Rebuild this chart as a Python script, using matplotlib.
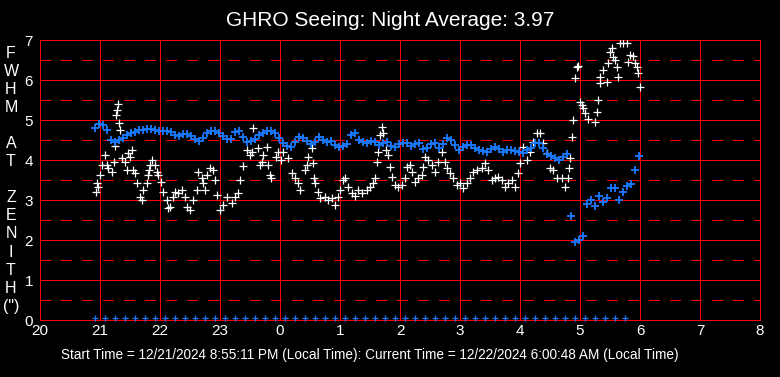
import numpy as np
import matplotlib
matplotlib.use("Agg")
import matplotlib.pyplot as plt

plt.rcParams['font.family'] = ['Liberation Sans', 'DejaVu Sans']
plt.rcParams['lines.scale_dashes'] = False

# hours on an extended clock (24 = midnight)
start_hr = 20.92
blue_step = 4 / 60.0
blue_v = [4.8, 4.9, 4.88, 4.75, 4.5, 4.45, 4.5, 4.55, 4.62, 4.68, 4.7, 4.75, 4.75, 4.77,
          4.78, 4.75, 4.73, 4.72, 4.72, 4.7, 4.62, 4.6, 4.66, 4.65, 4.6, 4.52, 4.47, 4.55,
          4.67, 4.72, 4.72, 4.68, 4.6, 4.53, 4.52, 4.7, 4.72, 4.58, 4.45, 4.47, 4.52, 4.62,
          4.68, 4.72, 4.72, 4.68, 4.55, 4.42, 4.35, 4.32, 4.45, 4.58, 4.55, 4.47, 4.4, 4.45,
          4.57, 4.5, 4.45, 4.48, 4.38, 4.33, 4.36, 4.4, 4.62, 4.68, 4.5, 4.45, 4.42, 4.48,
          4.45, 4.38, 4.42, 4.45, 4.35, 4.33, 4.4, 4.42, 4.42, 4.36, 4.4, 4.42, 4.27, 4.3,
          4.4, 4.42, 4.3, 4.4, 4.55, 4.5, 4.38, 4.26, 4.32, 4.38, 4.38, 4.3, 4.24, 4.22,
          4.2, 4.28, 4.33, 4.28, 4.2, 4.24, 4.26, 4.22, 4.2, 4.17, 4.25, 4.3, 4.42, 4.42,
          4.3, 4.15, 4.1, 4.05, 4.0, 4.08, 4.15, 2.6, 1.95, 2.0, 2.1, 2.9, 3.0, 2.85,
          3.1, 2.95, 3.05, 3.3, 3.3, 3.0, 3.2, 3.35, 3.4, 3.75, 4.1]
blue_t = start_hr + np.arange(len(blue_v)) * blue_step

white_t = [20.93, 20.95, 20.97, 21.00, 21.03, 21.08, 21.12, 21.13, 21.20, 21.23, 21.25, 21.27,
           21.28, 21.30, 21.32, 21.33, 21.37, 21.42, 21.45, 21.47, 21.50, 21.53, 21.55, 21.58,
           21.62, 21.67, 21.70, 21.72, 21.78, 21.80, 21.81, 21.83, 21.87, 21.92, 21.95, 21.97,
           22.02, 22.05, 22.12, 22.13, 22.17, 22.22, 22.25, 22.30, 22.37, 22.42, 22.45, 22.50,
           22.55, 22.62, 22.63, 22.70, 22.72, 22.75, 22.78, 22.83, 22.88, 22.92, 22.95, 23.00,
           23.05, 23.12, 23.20, 23.25, 23.30, 23.33, 23.38, 23.45, 23.50, 23.53, 23.55, 23.63,
           23.67, 23.70, 23.72, 23.78, 23.80, 23.83, 23.85, 23.93, 23.97, 24.02, 24.05, 24.13,
           24.20, 24.25, 24.30, 24.33, 24.42, 24.45, 24.47, 24.53, 24.55, 24.56, 24.58, 24.63,
           24.67, 24.75, 24.80, 24.87, 24.92, 24.97, 25.00, 25.05, 25.08, 25.13, 25.20, 25.25,
           25.30, 25.37, 25.45, 25.50, 25.55, 25.58, 25.62, 25.63, 25.67, 25.70, 25.72, 25.77,
           25.80, 25.83, 25.87, 25.92, 25.97, 26.03, 26.08, 26.12, 26.17, 26.20, 26.25, 26.30,
           26.37, 26.38, 26.42, 26.47, 26.53, 26.58, 26.63, 26.70, 26.75, 26.78, 26.83, 26.88,
           26.95, 27.00, 27.05, 27.12, 27.17, 27.22, 27.28, 27.37, 27.42, 27.47, 27.53, 27.58,
           27.63, 27.70, 27.75, 27.80, 27.87, 27.92, 27.97, 28.00, 28.05, 28.12, 28.17, 28.22,
           28.28, 28.33, 28.38, 28.45, 28.50, 28.55, 28.62, 28.70, 28.75, 28.80, 28.81, 28.83,
           28.87, 28.88, 28.92, 28.95, 28.97, 29.00, 29.03, 29.05, 29.08, 29.13, 29.25, 29.28,
           29.30, 29.33, 29.34, 29.38, 29.45, 29.47, 29.50, 29.53, 29.55, 29.58, 29.62, 29.63,
           29.67, 29.72, 29.78, 29.80, 29.83, 29.88, 29.92, 29.95, 29.97, 30.00]
white_v = [3.2, 3.42, 3.33, 3.62, 3.87, 4.12, 3.87, 3.8, 3.7, 3.95, 4.35, 5.12,
           5.25, 5.4, 4.92, 4.75, 4.05, 3.95, 3.75, 4.17, 4.08, 4.25, 3.75, 3.67,
           3.42, 3.08, 3.0, 3.25, 3.42, 3.62, 3.75, 3.87, 4.0, 3.87, 3.7, 3.62,
           3.45, 3.2, 3.0, 2.8, 2.83, 3.08, 3.2, 3.17, 3.25, 3.08, 2.83, 2.75,
           3.0, 3.25, 3.7, 3.55, 3.42, 3.25, 3.62, 3.8, 3.75, 3.5, 3.12, 2.75,
           2.87, 3.08, 2.92, 3.08, 3.17, 3.5, 3.85, 4.25, 4.12, 4.2, 4.8, 4.3,
           3.87, 3.95, 4.12, 4.33, 3.87, 3.62, 3.55, 4.08, 4.2, 4.0, 4.2, 4.05,
           3.67, 3.55, 3.42, 3.25, 3.75, 3.87, 4.08, 4.3, 3.92, 3.55, 3.42, 3.2,
           3.05, 3.08, 3.0, 3.05, 2.87, 3.08, 3.25, 3.5, 3.55, 3.33, 3.17, 3.1,
           3.25, 3.17, 3.25, 3.33, 3.42, 3.55, 3.95, 4.2, 4.62, 4.83, 4.67, 4.25,
           4.12, 3.83, 3.58, 3.37, 3.33, 3.37, 3.55, 3.83, 3.87, 3.7, 3.45, 3.55,
           3.62, 3.83, 4.08, 4.0, 3.87, 3.7, 3.95, 4.2, 3.95, 3.8, 3.67, 3.55,
           3.37, 3.42, 3.3, 3.42, 3.55, 3.7, 3.75, 3.8, 3.92, 3.75, 3.5, 3.55,
           3.58, 3.5, 3.33, 3.42, 3.5, 3.33, 3.67, 3.92, 4.33, 4.0, 4.2, 4.45,
           4.67, 4.67, 4.42, 4.17, 3.8, 3.75, 3.55, 3.55, 3.33, 3.55, 3.8, 4.05,
           4.58, 5.0, 6.05, 6.33, 6.35, 5.45, 5.37, 5.3, 5.17, 5.02, 4.95, 5.2,
           5.5, 5.92, 6.08, 6.25, 5.95, 6.42, 6.7, 6.8, 6.58, 6.5, 6.33, 6.08,
           6.93, 6.93, 6.93, 6.45, 6.62, 6.6, 6.42, 6.33, 6.17, 5.83]

# status markers along the bottom, one every 10 minutes
base_t = np.arange(20.92, 29.9, 1 / 6.0)
base_v = 0.05

hour_ticks = list(range(20, 33))
hour_labels = [str(h % 24) for h in hour_ticks]
title = "GHRO Seeing: Night Average: 3.97"
footer = ("Start Time = 12/21/2024 8:55:11 PM (Local Time): "
          "Current Time = 12/22/2024 6:00:48 AM (Local Time)")
ylabel_chars = ['F', 'W', 'H', 'M', '', 'A', 'T', '', 'Z', 'E', 'N', 'I', 'T', 'H', '(")']

W, H = 780, 377
fig = plt.figure(figsize=(W / 100, H / 100), dpi=100, facecolor='black')
ax = fig.add_axes([40 / W, (H - 320) / H, 720 / W, 280 / H])
ax.set_facecolor('black')
ax.set_xlim(20, 32)
ax.set_ylim(0, 7)

red = '#ff0000'
lw = 0.6
for h in hour_ticks:
    ax.axvline(h, color=red, lw=lw, antialiased=False, zorder=1)
for v in range(8):
    ax.axhline(v, color=red, lw=lw, antialiased=False, zorder=1)
for v in np.arange(0.5, 7, 1.0):
    ax.axhline(v, color=red, lw=lw, dashes=(7.2, 7.2), antialiased=False, zorder=1)
for s in ax.spines.values():
    s.set_color(red)
    s.set_linewidth(lw)
    s.set_antialiased(False)

ax.plot(white_t, white_v, '+', color='white', ms=5.5, mew=0.9, zorder=3)
ax.plot(blue_t, blue_v, '+', color='#1a7aff', ms=5.5, mew=1.3, zorder=4)
ax.plot(base_t, np.full(len(base_t), base_v), '+', color='#1a7aff', ms=4.0, mew=0.9,
        zorder=4, clip_on=False)

ax.set_xticks(hour_ticks)
ax.set_xticklabels(hour_labels)
ax.set_yticks(range(8))
ax.tick_params(colors='white', length=0, labelsize=11, pad=3)
ax.tick_params(axis='y', pad=5)

fig.text(0.5, 1 - 20 / H, title, color='white', fontsize=15, ha='center', va='center')
fig.text(370 / W, 1 - 355 / H, footer, color='white', fontsize=9.8, ha='center', va='center')
for i, ch in enumerate(ylabel_chars):
    if ch:
        fig.text(11 / W, 1 - (53 + 18.1 * i) / H, ch, color='white', fontsize=11.5,
                 ha='center', va='center')

fig.savefig('out.png', dpi=100, facecolor='black')
